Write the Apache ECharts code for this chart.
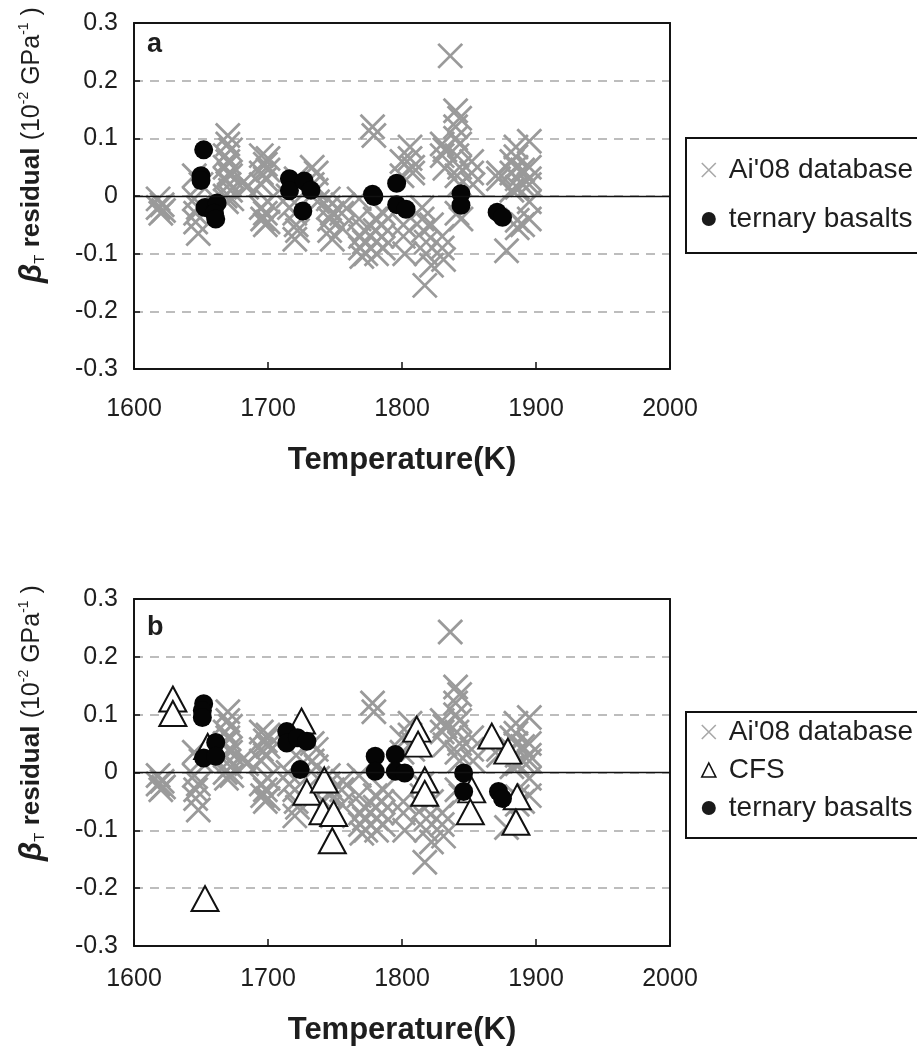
<!DOCTYPE html>
<html>
<head>
<meta charset="utf-8">
<script src="https://cdn.jsdelivr.net/npm/echarts@6/dist/echarts.min.js"></script>
<style>
  html, body { margin: 0; padding: 0; background: #ffffff; }
  #chart { width: 917px; height: 1053px; }
</style>
</head>
<body>
<div id="chart"></div>
<script>
// ---- Tick labels ----
const xTickLabels = ['1600', '1700', '1800', '1900', '2000'];
const yTickLabels = ['-0.3', '-0.2', '-0.1', '0', '0.1', '0.2', '0.3'];

// ---- Ai'08 database residuals (same set in both panels) ----
const aiTemp = [
  1618, 1618, 1620, 1621, 1622,
  1645, 1645, 1646, 1646, 1648, 1648, 1650,
  1668, 1668, 1668, 1668, 1669, 1670, 1670, 1670, 1671, 1671, 1672, 1672, 1672, 1673,
  1682, 1684,
  1695, 1695, 1695, 1695, 1696, 1698, 1698, 1698, 1698, 1700, 1700, 1700, 1700,
  1715, 1716, 1720, 1720, 1721, 1721, 1722,
  1733, 1733, 1736, 1736, 1737,
  1745, 1745, 1746, 1746, 1748, 1748, 1755, 1755, 1756,
  1768, 1768, 1769, 1769, 1770, 1772, 1772, 1773,
  1778, 1779, 1780, 1780, 1781, 1781, 1785, 1785, 1786, 1786,
  1800, 1800, 1801, 1801, 1802, 1806, 1806, 1808, 1808,
  1815, 1815, 1816, 1818, 1818, 1817, 1822, 1822,
  1830, 1830, 1831, 1830, 1830, 1832, 1832, 1836,
  1840, 1840, 1840, 1841, 1841, 1841, 1843, 1843, 1843, 1843, 1844,
  1852, 1852, 1853, 1872, 1872, 1878,
  1882, 1882, 1882, 1885, 1885, 1885, 1886, 1886, 1886, 1886,
  1890, 1890, 1890, 1895, 1895, 1895, 1895, 1895, 1895
];
const aiResid = [
  -0.005, -0.02, -0.03, -0.015, -0.025,
  0.035, -0.005, -0.03, -0.045, -0.02, -0.065, 0.02,
  0.07, 0.05, 0.03, 0.0, -0.01, 0.105, 0.09, 0.06, 0.04, 0.02, 0.08, 0.035, 0.01, -0.005,
  0.025, 0.015,
  0.07, 0.04, 0.02, -0.02, -0.04, 0.055, 0.03, -0.03, -0.05, 0.065, 0.045, -0.01, -0.045,
  0.0, -0.02, -0.03, -0.075, 0.03, -0.05, -0.06,
  0.05, 0.02, 0.04, 0.01, -0.01,
  -0.005, -0.02, -0.04, -0.06, -0.03, -0.075, -0.03, -0.055, -0.015,
  -0.005, -0.04, -0.07, -0.09, -0.105, -0.06, -0.08, -0.1,
  0.12, 0.105, -0.04, -0.06, -0.08, -0.1, -0.05, -0.07, -0.09, -0.03,
  0.06, 0.035, -0.05, -0.07, -0.1, 0.085, 0.065, 0.05, 0.04,
  -0.02, -0.04, -0.06, -0.08, -0.1, -0.155, -0.12, -0.05,
  -0.07, -0.09, -0.11, 0.09, 0.07, 0.08, 0.048, 0.243,
  0.148, 0.12, 0.1, 0.07, 0.035, -0.03, 0.135, 0.09, 0.05, 0.02, -0.04,
  0.06, 0.04, 0.02, 0.04, 0.03, -0.095,
  0.06, 0.04, 0.01, 0.085, 0.068, 0.05, 0.03, 0.015, -0.042, -0.055,
  0.045, 0.02, -0.05, 0.095, 0.05, 0.03, 0.02, -0.01, -0.04
];

// ---- Ternary basalts, panel a ----
const ternATemp = [1652, 1650, 1650, 1653, 1662, 1660, 1661,
                   1716, 1716, 1727, 1732, 1726,
                   1778, 1779, 1796, 1796, 1803,
                   1844, 1844, 1871, 1875];
const ternAResid = [0.08, 0.035, 0.027, -0.02, -0.012, -0.03, -0.04,
                    0.03, 0.009, 0.026, 0.01, -0.026,
                    0.003, -0.001, 0.022, -0.015, -0.023,
                    0.004, -0.016, -0.028, -0.037];

// ---- Panel b: CFS and ternary basalts ----
const cfsTemp = [1629, 1629, 1655, 1653, 1725, 1729, 1742, 1741, 1749, 1748,
                 1811, 1812, 1817, 1817, 1852, 1851, 1867, 1879, 1886, 1885];
const cfsResid = [0.127, 0.102, 0.045, -0.218, 0.089, -0.034, -0.013, -0.068, -0.071, -0.118,
                  0.075, 0.049, -0.013, -0.036, -0.03, -0.068, 0.063, 0.037, -0.042, -0.086];

const ternBTemp = [1652, 1651, 1651, 1661, 1652, 1661,
                   1714, 1714, 1722, 1729, 1724,
                   1780, 1780, 1795, 1795, 1802,
                   1846, 1846, 1872, 1875];
const ternBResid = [0.119, 0.107, 0.095, 0.052, 0.025, 0.028,
                    0.071, 0.051, 0.06, 0.054, 0.005,
                    0.028, 0.002, 0.031, 0.002, -0.001,
                    -0.001, -0.033, -0.033, -0.045];

// ---- Styling ----
const FONT = '"Liberation Sans", Arial, Helvetica, sans-serif';
const TEXT = '#1e1e1e';
const CROSS = 'path://M0,0L20,20M20,0L0,20';
const GREY = '#9a9a9a';

const pairs = (xs, ys) => xs.map((x, i) => [x, ys[i]]);

const chart = echarts.init(document.getElementById('chart'), null, { renderer: 'canvas' });

function makeGrid(top, height) {
  return {
    left: 134, top: top, width: 536, height: height,
    show: false, containLabel: false
  };
}

// Solid box around each plot, drawn by the axis lines on all four sides
function makeXAxis(gridIndex, labelMargin, nameGap, position) {
  const main = position === 'bottom';
  return {
    type: 'value', gridIndex: gridIndex, position: position,
    min: 1600, max: 2000, interval: 100,
    name: main ? 'Temperature(K)' : '', nameLocation: 'middle', nameGap: nameGap,
    nameTextStyle: { fontFamily: FONT, fontWeight: 'bold', fontSize: 31, color: TEXT },
    axisLine: { show: true, onZero: false, lineStyle: { color: '#151515', width: 2 } },
    axisTick: { show: main, inside: true, length: 7, lineStyle: { color: '#111', width: 1.5 } },
    axisLabel: {
      show: main,
      margin: labelMargin, fontFamily: FONT, fontSize: 25, color: TEXT,
      formatter: v => xTickLabels[Math.round((v - 1600) / 100)]
    },
    splitLine: { show: false }
  };
}

function makeYAxis(gridIndex, position) {
  const main = position === 'left';
  return {
    type: 'value', gridIndex: gridIndex, position: position,
    min: -0.3, max: 0.3, interval: 0.1,
    axisLine: { show: true, onZero: false, lineStyle: { color: '#151515', width: 2 } },
    axisTick: { show: main, inside: true, length: 6, lineStyle: { color: '#111', width: 1.5 } },
    axisLabel: {
      show: main,
      margin: 16, fontFamily: FONT, fontSize: 25, color: TEXT,
      formatter: v => yTickLabels[Math.round((v + 0.3) * 10)]
    },
    splitLine: {
      show: main, showMinLine: false, showMaxLine: false,
      lineStyle: { color: '#a8a8a8', width: 1.6, type: [9, 7] }
    }
  };
}

const zeroLine = {
  silent: true, symbol: ['none', 'none'],
  label: { show: false },
  lineStyle: { color: '#111', width: 1.3, type: 'solid', opacity: 1 },
  data: [{ yAxis: 0 }]
};

function aiSeries(idx) {
  return {
    name: "Ai'08 database", type: 'scatter', xAxisIndex: idx * 2, yAxisIndex: idx * 2,
    symbol: CROSS, symbolSize: 24, silent: true, z: 2,
    itemStyle: { color: 'rgba(0,0,0,0)', borderColor: GREY, borderWidth: 2.8, opacity: 1 },
    data: pairs(aiTemp, aiResid),
    markLine: zeroLine
  };
}

function ternSeries(idx, xs, ys) {
  return {
    name: 'ternary basalts', type: 'scatter', xAxisIndex: idx * 2, yAxisIndex: idx * 2,
    symbol: 'circle', symbolSize: 19, silent: true, z: 4,
    itemStyle: { color: '#050505', opacity: 1 },
    data: pairs(xs, ys)
  };
}

const legendText = { fontFamily: FONT, fontSize: 28, color: TEXT, padding: [0, 0, 0, 8] };
const legendItems = {
  ai: { name: "Ai'08 database", icon: CROSS,
        itemStyle: { color: 'rgba(0,0,0,0)', borderColor: '#a8a8a8', borderWidth: 1.6, opacity: 1 } },
  cfs: { name: 'CFS', icon: 'triangle',
         itemStyle: { color: '#ffffff', borderColor: '#111', borderWidth: 1.6, opacity: 1 } },
  tern: { name: 'ternary basalts', icon: 'circle',
          itemStyle: { color: '#1a1a1a', borderColor: '#111', borderWidth: 0, opacity: 1 } }
};

function makeLegend(top, gap, padding, data) {
  return {
    orient: 'vertical', left: 686, top: top,
    itemWidth: 14, itemHeight: 14, itemGap: gap,
    padding: padding,
    borderColor: '#111', borderWidth: 2, backgroundColor: '#fff',
    textStyle: legendText, selectedMode: false,
    data: data
  };
}

const yLabelRich = {
  b: { fontFamily: FONT, fontSize: 31, fontWeight: 'bold', fontStyle: 'italic', lineHeight: 30, fill: TEXT },
  s: { fontFamily: FONT, fontSize: 15, lineHeight: 18, verticalAlign: 'bottom', fill: TEXT },
  r: { fontFamily: FONT, fontSize: 26, fontWeight: 'bold', lineHeight: 30, fill: TEXT },
  p: { fontFamily: FONT, fontSize: 25, lineHeight: 30, fill: TEXT },
  u: { fontFamily: FONT, fontSize: 14, lineHeight: 16, verticalAlign: 'top', fill: TEXT }
};
const yLabelText = '{b|β}{s|T}{r| residual }{p|(10}{u|-2}{p| GPa}{u|-1}{p| )}';

function yTitle(cy) {
  return {
    type: 'text', x: 32, y: cy, rotation: Math.PI / 2, silent: true,
    style: { text: yLabelText, rich: yLabelRich, align: 'center', verticalAlign: 'middle' }
  };
}

function panelLetter(ch, y) {
  return {
    type: 'text', x: 147, y: y, silent: true,
    style: { text: ch, font: 'bold 27px ' + FONT, fill: TEXT, align: 'left', verticalAlign: 'middle' }
  };
}

const option = {
  animation: false,
  backgroundColor: '#ffffff',
  grid: [makeGrid(23, 346), makeGrid(599, 347)],
  xAxis: [
    makeXAxis(0, 28, 76, 'bottom'), makeXAxis(0, 0, 0, 'top'),
    makeXAxis(1, 21, 69, 'bottom'), makeXAxis(1, 0, 0, 'top')
  ],
  yAxis: [
    makeYAxis(0, 'left'), makeYAxis(0, 'right'),
    makeYAxis(1, 'left'), makeYAxis(1, 'right')
  ],
  legend: [
    makeLegend(138, 21, [18, 40, 20, 15], [legendItems.ai, legendItems.tern]),
    makeLegend(712, 10, [6, 40, 16, 15], [legendItems.ai, legendItems.cfs, legendItems.tern])
  ],
  graphic: [
    yTitle(145), yTitle(723),
    panelLetter('a', 45), panelLetter('b', 628)
  ],
  series: [
    aiSeries(0),
    ternSeries(0, ternATemp, ternAResid),
    aiSeries(1),
    {
      name: 'CFS', type: 'scatter', xAxisIndex: 2, yAxisIndex: 2,
      symbol: 'triangle', symbolSize: [27, 25], silent: true, z: 3,
      itemStyle: { color: '#ffffff', borderColor: '#111', borderWidth: 2, opacity: 1 },
      data: pairs(cfsTemp, cfsResid)
    },
    ternSeries(1, ternBTemp, ternBResid)
  ]
};

chart.setOption(option);
</script>
</body>
</html>
